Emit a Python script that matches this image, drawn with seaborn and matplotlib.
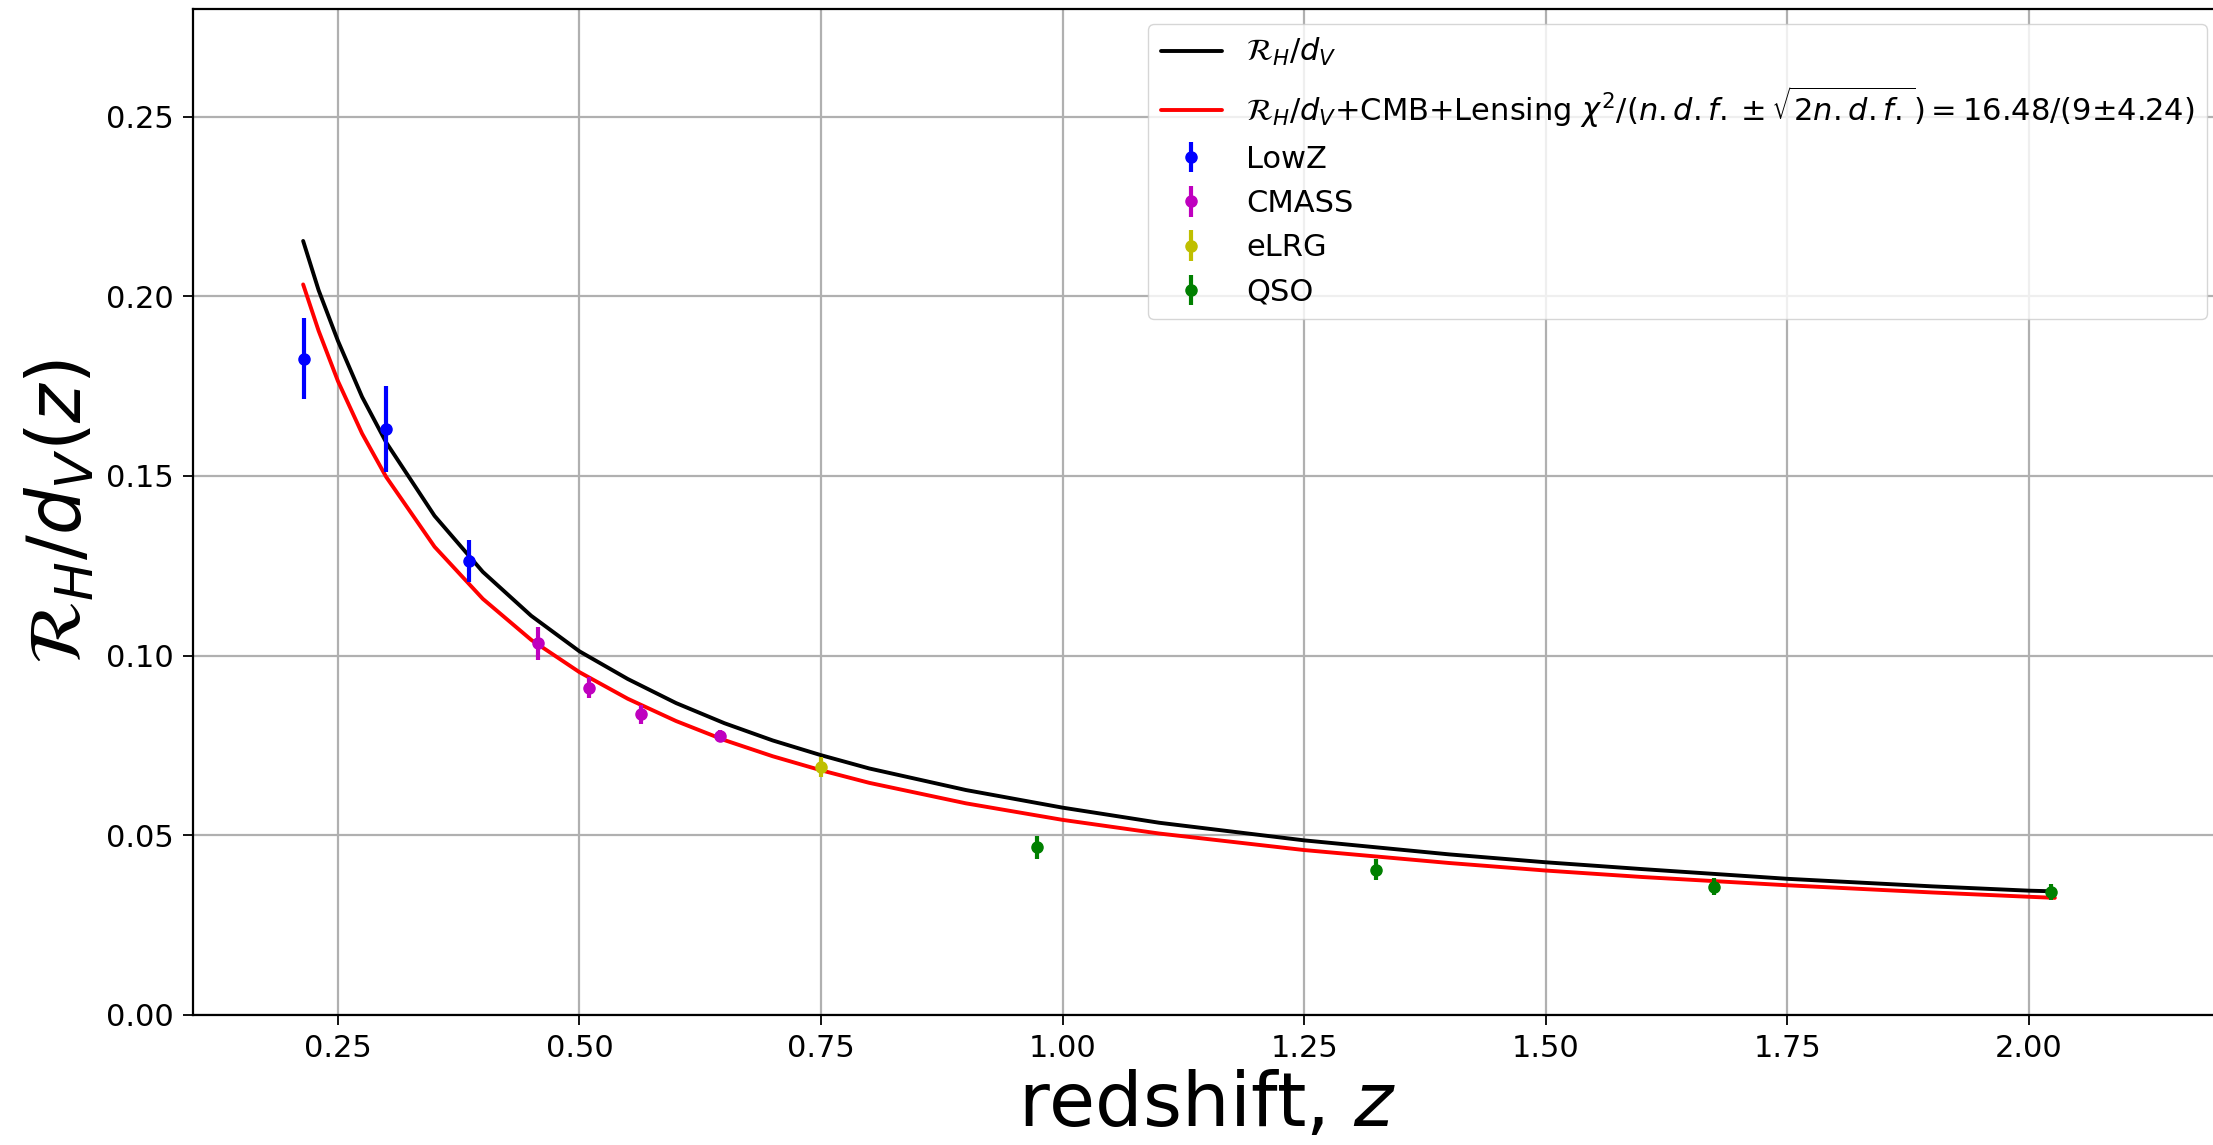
import numpy as np
import pandas as pd
import matplotlib
matplotlib.use("Agg")
import matplotlib.pyplot as plt
import seaborn as sns

# ---- data ----
# model curve R_H/d_V
z_model = [0.214, 0.23, 0.25, 0.275, 0.30, 0.35, 0.40, 0.45, 0.50, 0.55, 0.60, 0.65,
           0.70, 0.75, 0.80, 0.90, 1.00, 1.10, 1.25, 1.40, 1.50, 1.60, 1.75, 1.90,
           2.00, 2.027]
v_model = [0.2154, 0.2017, 0.1876, 0.1720, 0.1593, 0.1389, 0.1233, 0.1111, 0.1012,
           0.0935, 0.0868, 0.0812, 0.0764, 0.0723, 0.0686, 0.0626, 0.0577, 0.0535,
           0.0486, 0.0447, 0.0425, 0.0406, 0.0379, 0.0358, 0.0346, 0.0344]
# model + CMB + Lensing
z_fit = [0.214, 0.23, 0.25, 0.275, 0.30, 0.35, 0.40, 0.45, 0.50, 0.55, 0.60, 0.65,
         0.70, 0.75, 0.80, 0.90, 1.00, 1.10, 1.25, 1.40, 1.50, 1.60, 1.75, 1.90,
         2.00, 2.027]
v_fit = [0.2033, 0.1904, 0.1764, 0.1618, 0.1497, 0.1303, 0.1158, 0.1044, 0.0954,
         0.0880, 0.0818, 0.0765, 0.0720, 0.0681, 0.0646, 0.0589, 0.0543, 0.0505,
         0.0459, 0.0423, 0.0402, 0.0384, 0.0361, 0.0341, 0.0329, 0.0326]

lowz_z = [0.215, 0.30, 0.386]
lowz_v = [0.1826, 0.1630, 0.1263]
lowz_e = [0.0113, 0.0120, 0.0058]

cmass_z = [0.457, 0.51, 0.564, 0.645]
cmass_v = [0.1034, 0.0911, 0.0837, 0.0776]
cmass_e = [0.0045, 0.0029, 0.0027, 0.0017]

elrg_z = [0.75]
elrg_v = [0.0690]
elrg_e = [0.0028]

qso_z = [0.974, 1.324, 1.674, 2.023]
qso_v = [0.0467, 0.0404, 0.0357, 0.0343]
qso_e = [0.0032, 0.0029, 0.0024, 0.0022]

x_ticks = [0.25, 0.50, 0.75, 1.00, 1.25, 1.50, 1.75, 2.00]
y_ticks = [0.00, 0.05, 0.10, 0.15, 0.20, 0.25]

label_model = r'$\mathcal{R}_H/d_V$'
label_fit = (r'$\mathcal{R}_H/d_V$+CMB+Lensing '
             r'$\chi^2/(n.d.f. \pm \sqrt{2n.d.f.}) = 16.48/(9$±$4.24)$')

# ---- plotting ----
sns.set_style("ticks")
plt.rcParams['font.family'] = ['DejaVu Sans']
plt.rcParams['mathtext.fontset'] = 'dejavusans'
plt.rcParams['text.color'] = 'black'
plt.rcParams['axes.labelcolor'] = 'black'
plt.rcParams['xtick.color'] = 'black'
plt.rcParams['ytick.color'] = 'black'

fig = plt.figure(figsize=(22.13, 11.45), dpi=100)
ax = fig.add_axes([193 / 2213, 1 - 1015 / 1145, (2222 - 193) / 2213, (1015 - 8.8) / 1145])

df_model = pd.DataFrame({'z': z_model, 'v': v_model})
df_fit = pd.DataFrame({'z': z_fit, 'v': v_fit})
sns.lineplot(data=df_model, x='z', y='v', ax=ax, color='k', lw=2.8,
             label=label_model, estimator=None, sort=False, zorder=3)
sns.lineplot(data=df_fit, x='z', y='v', ax=ax, color='r', lw=2.8,
             label=label_fit, estimator=None, sort=False, zorder=3)

for zz, vv, ee, col, lab in [(lowz_z, lowz_v, lowz_e, 'b', 'LowZ'),
                             (cmass_z, cmass_v, cmass_e, 'm', 'CMASS'),
                             (elrg_z, elrg_v, elrg_e, 'y', 'eLRG'),
                             (qso_z, qso_v, qso_e, 'g', 'QSO')]:
    ax.errorbar(zz, vv, yerr=ee, fmt='o', color=col, ms=8, elinewidth=3,
                capsize=0, label=lab, zorder=4)

ax.set_xlim(0.1, 2.2)
ax.set_ylim(0.0, 0.28)
ax.set_xticks(x_ticks)
ax.set_yticks(y_ticks)
ax.set_xticklabels([f'{t:.2f}' for t in x_ticks])
ax.set_yticklabels([f'{t:.2f}' for t in y_ticks])
ax.grid(True, color='#b0b0b0', lw=1.6)
ax.set_axisbelow(True)
ax.tick_params(axis='both', labelsize=22, length=7, width=1.3, pad=7,
               direction='out', colors='k')
for s in ax.spines.values():
    s.set_color('k')
    s.set_linewidth(1.6)

ax.set_xlabel(r'redshift, $z$', fontsize=54, labelpad=4, color='k')
ax.set_ylabel(r'$\mathcal{R}_H/d_V(z)$', fontsize=53, labelpad=6, color='k')

leg = ax.legend(loc='upper right', fontsize=22, frameon=True, fancybox=True,
                framealpha=0.8, edgecolor='0.8', handlelength=2.0,
                labelspacing=0.5, borderaxespad=0.5)
for t in leg.get_texts():
    t.set_color('k')

fig.savefig('out.png', dpi=100)
